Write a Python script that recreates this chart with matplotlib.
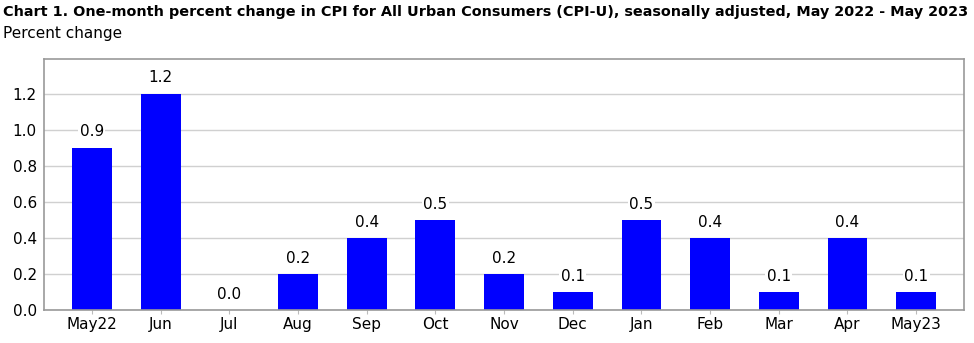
import matplotlib
matplotlib.use('Agg')
import matplotlib.pyplot as plt

# CPI-U one-month percent change, May 2022 - May 2023
months = ['May22', 'Jun', 'Jul', 'Aug', 'Sep', 'Oct', 'Nov', 'Dec',
          'Jan', 'Feb', 'Mar', 'Apr', 'May23']
values = [0.9, 1.2, 0.0, 0.2, 0.4, 0.5, 0.2, 0.1, 0.5, 0.4, 0.1, 0.4, 0.1]
yticks = [0.0, 0.2, 0.4, 0.6, 0.8, 1.0, 1.2]

plt.rcParams['font.family'] = 'DejaVu Sans'

fig = plt.figure(figsize=(9.74, 3.43), dpi=100)
ax = fig.add_axes([0.045, 0.096, 0.945, 0.731])

x = range(len(months))
ax.bar(x, values, width=0.58, color='#0000FF', zorder=2)

for i, v in zip(x, values):
    ax.annotate(f'{v:.1f}', (i, v), xytext=(0, 6), textcoords='offset points',
                ha='center', va='bottom', fontsize=11,
                bbox=dict(facecolor='white', edgecolor='none', pad=1), zorder=3)

ax.set_xlim(-0.7, 12.7)
ax.set_ylim(0, 1.39)
ax.set_yticks(yticks)
ax.set_yticklabels([f'{t:.1f}' for t in yticks], fontsize=11)
ax.set_xticks(list(x))
ax.set_xticklabels(months, fontsize=11)
ax.tick_params(axis='y', length=0, pad=5)
ax.tick_params(axis='x', length=3, color='#BBBBBB', pad=2)
ax.grid(axis='y', color='#D0D0D0', linewidth=1, zorder=0)
ax.set_axisbelow(True)
for s in ax.spines.values():
    s.set_color('#999999')
    s.set_linewidth(1.2)

fig.text(0.003, 0.985, 'Chart 1. One-month percent change in CPI for All Urban Consumers (CPI-U), '
         'seasonally adjusted, May 2022 - May 2023',
         fontsize=10.4, fontweight='bold', ha='left', va='top')
fig.text(0.003, 0.925, 'Percent change', fontsize=11, ha='left', va='top')

plt.savefig('out.png', dpi=100)
